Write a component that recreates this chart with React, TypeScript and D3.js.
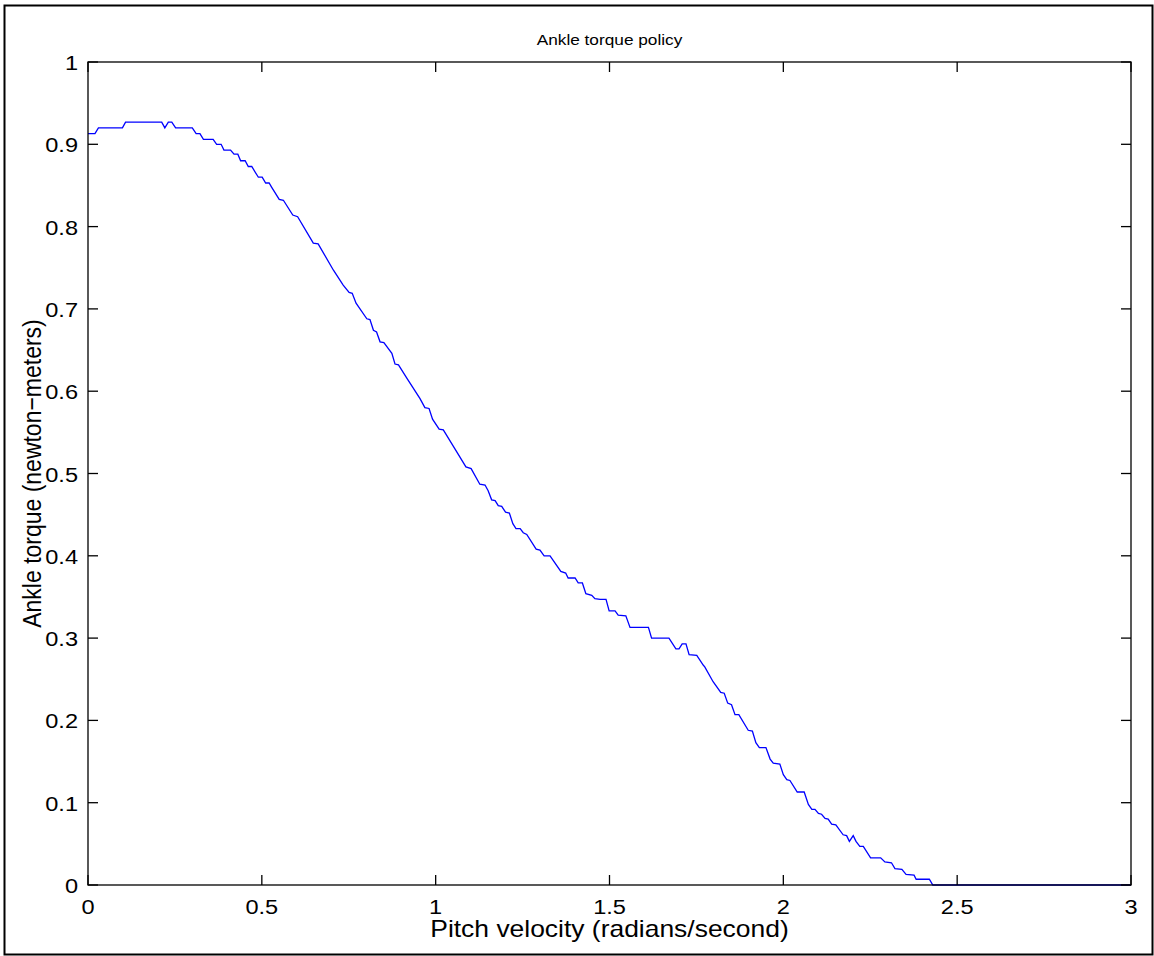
import React from "react";
import * as d3 from "d3";

const xs: number[] = [
  0, 0.020, 0.030, 0.099, 0.108, 0.212, 0.221, 0.231, 0.241, 0.252, 0.300, 0.311, 0.322, 0.332, 0.360, 0.370,
  0.383, 0.391, 0.410, 0.420, 0.431, 0.439, 0.452, 0.461, 0.471, 0.490, 0.501, 0.511, 0.521, 0.528, 0.550,
  0.562, 0.589, 0.603, 0.648, 0.662, 0.706, 0.734, 0.751, 0.760, 0.771, 0.802, 0.811, 0.821, 0.830, 0.840,
  0.851, 0.874, 0.883, 0.893, 0.917, 0.955, 0.969, 0.981, 0.991, 1.010, 1.022, 1.051, 1.087, 1.102, 1.127,
  1.142, 1.151, 1.161, 1.171, 1.180, 1.190, 1.201, 1.212, 1.222, 1.231, 1.243, 1.252, 1.262, 1.289, 1.300,
  1.312, 1.329, 1.360, 1.374, 1.381, 1.401, 1.410, 1.422, 1.432, 1.449, 1.458, 1.473, 1.490, 1.499, 1.516,
  1.525, 1.547, 1.559, 1.612, 1.621, 1.671, 1.691, 1.700, 1.709, 1.720, 1.729, 1.751, 1.770, 1.774, 1.798,
  1.820, 1.830, 1.840, 1.851, 1.861, 1.872, 1.899, 1.911, 1.921, 1.931, 1.950, 1.962, 1.971, 1.990, 2.000,
  2.010, 2.019, 2.040, 2.060, 2.072, 2.082, 2.091, 2.101, 2.110, 2.120, 2.129, 2.139, 2.151, 2.172, 2.182,
  2.190, 2.201, 2.209, 2.220, 2.230, 2.251, 2.280, 2.292, 2.311, 2.321, 2.341, 2.353, 2.376, 2.382, 2.420,
  2.430, 3.0,
];

const torque: number[] = [
  0.913, 0.913, 0.920, 0.920, 0.927, 0.927, 0.920, 0.927, 0.927, 0.920, 0.920, 0.913, 0.913, 0.906, 0.906, 0.900,
  0.900, 0.893, 0.893, 0.888, 0.888, 0.880, 0.880, 0.873, 0.873, 0.860, 0.860, 0.853, 0.853, 0.848, 0.833,
  0.832, 0.814, 0.812, 0.780, 0.779, 0.747, 0.729, 0.720, 0.719, 0.707, 0.688, 0.687, 0.674, 0.672, 0.660,
  0.659, 0.646, 0.633, 0.632, 0.616, 0.591, 0.580, 0.579, 0.566, 0.554, 0.553, 0.533, 0.508, 0.506, 0.487,
  0.486, 0.479, 0.468, 0.467, 0.461, 0.460, 0.453, 0.452, 0.439, 0.433, 0.433, 0.428, 0.426, 0.408, 0.407,
  0.400, 0.400, 0.381, 0.379, 0.373, 0.373, 0.367, 0.367, 0.354, 0.352, 0.348, 0.347, 0.347, 0.333, 0.333,
  0.328, 0.327, 0.313, 0.313, 0.300, 0.300, 0.287, 0.287, 0.293, 0.293, 0.280, 0.279, 0.267, 0.265, 0.247,
  0.234, 0.233, 0.221, 0.219, 0.207, 0.207, 0.188, 0.187, 0.173, 0.167, 0.167, 0.153, 0.148, 0.147, 0.134,
  0.128, 0.127, 0.113, 0.113, 0.098, 0.092, 0.092, 0.087, 0.086, 0.081, 0.080, 0.074, 0.073, 0.061, 0.060,
  0.053, 0.060, 0.053, 0.047, 0.047, 0.033, 0.033, 0.028, 0.027, 0.020, 0.019, 0.013, 0.012, 0.007, 0.007,
  0, 0,
];

const xTicks: number[] = [0, 0.5, 1, 1.5, 2, 2.5, 3];
const yTicks: number[] = [0, 0.1, 0.2, 0.3, 0.4, 0.5, 0.6, 0.7, 0.8, 0.9, 1];

const title = "Ankle torque policy";
const xLabel = "Pitch velocity (radians/second)";
const yLabel = "Ankle torque (newton\u2212meters)";

export default function App() {
  const W = 1154, H = 956;
  const left = 88, right = 1131, top = 62, bottom = 885;
  const x = d3.scaleLinear().domain([0, 3]).range([left, right]);
  const y = d3.scaleLinear().domain([0, 1]).range([bottom, top]);
  const pts: [number, number][] = xs.map((v, i) => [v, torque[i]]);
  const line = d3.line<[number, number]>().x(d => x(d[0])).y(d => y(d[1]));
  const tl = 10;
  const font = "'Liberation Sans', Arial, Helvetica, sans-serif";
  const fs = 20.5;
  const sx = 1.15;
  return (
    <svg width={W} height={H} style={{ position: "absolute", left: 0, top: 0, background: "#fff" }}
      fontFamily={font}>
      <rect x={0} y={0} width={W} height={H} fill="#fff" />
      <rect x={4.5} y={5.5} width={1148} height={949} fill="none" stroke="#000" strokeWidth={2} />
      <path d={line(pts) || ""} fill="none" stroke="#0000ff" strokeWidth={1.3} />
      <rect x={left} y={top} width={right - left} height={bottom - top} fill="none" stroke="#000" strokeWidth={1.3} />
      {xTicks.map(t => (
        <g key={"x" + t}>
          <line x1={x(t)} x2={x(t)} y1={bottom} y2={bottom - tl} stroke="#000" strokeWidth={1.3} />
          <line x1={x(t)} x2={x(t)} y1={top} y2={top + tl} stroke="#000" strokeWidth={1.3} />
          <text transform={`translate(${x(t)}, 914) scale(${sx}, 1)`} textAnchor="middle" fontSize={fs}>{String(t)}</text>
        </g>
      ))}
      {yTicks.map(t => (
        <g key={"y" + t}>
          <line x1={left} x2={left + tl} y1={y(t)} y2={y(t)} stroke="#000" strokeWidth={1.3} />
          <line x1={right} x2={right - tl} y1={y(t)} y2={y(t)} stroke="#000" strokeWidth={1.3} />
          <text transform={`translate(78, ${y(t) + 8}) scale(${sx}, 1)`} textAnchor="end" fontSize={fs}>{String(t)}</text>
        </g>
      ))}
      <text transform={`translate(${(left + right) / 2}, 45) scale(${sx}, 1)`} textAnchor="middle" fontSize={15}>{title}</text>
      <text transform={`translate(${(left + right) / 2}, 937) scale(${sx}, 1)`} textAnchor="middle" fontSize={23}>{xLabel}</text>
      <text transform={`translate(41, ${(top + bottom) / 2}) scale(${sx}, 1) rotate(-90)`} textAnchor="middle" fontSize={23}>{yLabel}</text>
    </svg>
  );
}
